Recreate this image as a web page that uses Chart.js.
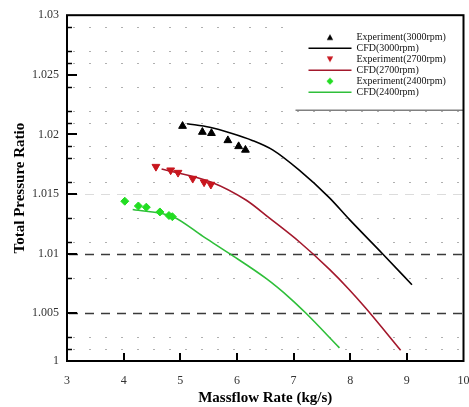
<!DOCTYPE html>
<html lang="en">
<head>
    <meta charset="UTF-8">
    <title>Total Pressure Ratio vs Massflow Rate</title>
    <style>
        html, body { margin: 0; padding: 0; background: #fff; }
        canvas { display: block; }
    </style>
    <script src="https://cdn.jsdelivr.net/npm/chart.js@4"></script>
</head>
<body>
    <canvas id="prChart" width="469" height="407"></canvas>

    <script>
        // Experiment and CFD values
        const exp3000X = [5.04, 5.39, 5.55, 5.84, 6.03, 6.15];
        const exp3000Y = [1.0207, 1.0202, 1.0201, 1.0195, 1.0190, 1.0187];
        const cfd3000X = [5.12, 5.52, 5.90, 6.27, 6.63, 7.10, 7.63, 7.98, 8.57, 9.09];
        const cfd3000Y = [1.0209, 1.0206, 1.0201, 1.0195, 1.0187, 1.0170, 1.0147, 1.0129, 1.0100, 1.0074];

        const exp2700X = [4.57, 4.83, 4.96, 5.22, 5.42, 5.54];
        const exp2700Y = [1.0173, 1.0170, 1.0168, 1.0163, 1.0160, 1.0158];
        const cfd2700X = [4.67, 5.55, 6.16, 6.57, 7.10, 7.63, 7.98, 8.28, 8.89];
        const cfd2700Y = [1.0171, 1.0160, 1.0145, 1.0130, 1.0110, 1.0087, 1.0070, 1.0054, 1.0019];

        const exp2400X = [4.02, 4.26, 4.40, 4.64, 4.80, 4.86];
        const exp2400Y = [1.0144, 1.0140, 1.0139, 1.0135, 1.0132, 1.0131];
        const cfd2400X = [4.16, 4.87, 5.40, 5.87, 6.52, 6.93, 7.22, 7.81];
        const cfd2400Y = [1.0137, 1.0131, 1.01145, 1.0100, 1.0079, 1.0063, 1.0050, 1.0021];

        // axis ticks (bottom of the frame sits a little above 1.000 on the tick spacing)
        const xTickValues = [3, 4, 5, 6, 7, 8, 9, 10];
        const yTickValues = [1.001, 1.005, 1.01, 1.015, 1.02, 1.025, 1.03];
        const yTickLabels = ['1', '1.005', '1.01', '1.015', '1.02', '1.025', '1.03'];
        // dotted minor grid rows seen in the figure
        const yMinorGrid = [1.002, 1.003, 1.008, 1.011, 1.013, 1.016, 1.018, 1.019, 1.021, 1.022, 1.024, 1.026, 1.027, 1.029];
        const yDarkDashed = [1.005, 1.01];
        const yLightDashed = [1.015];

        const SERIF = "'Liberation Serif', 'Times New Roman', serif";

        function toPoints(xs, ys) {
            return xs.map((x, i) => ({ x: x, y: ys[i] }));
        }

        // small glyphs for the legend markers (so they don't get stretched by pointStyleWidth)
        function legendGlyph(shape, color) {
            const c = document.createElement('canvas');
            c.width = 8; c.height = 8;
            const g = c.getContext('2d');
            g.fillStyle = color;
            g.beginPath();
            if (shape === 'up') {
                g.moveTo(4, 1); g.lineTo(7.2, 6.8); g.lineTo(0.8, 6.8);
            } else if (shape === 'down') {
                g.moveTo(0.8, 1.2); g.lineTo(7.2, 1.2); g.lineTo(4, 7);
            } else {
                g.moveTo(4, 0.5); g.lineTo(7.5, 4); g.lineTo(4, 7.5); g.lineTo(0.5, 4);
            }
            g.closePath();
            g.fill();
            return c;
        }

        // grid rows, frame and inward ticks like the original plot
        const framePlugin = {
            id: 'frame',
            afterLayout(chart) {
                const lg = chart.legend;
                const a = chart.chartArea;
                const w = lg.width, h = lg.height;
                lg.left = a.right - 156;
                lg.top = a.top + 16;
                lg.right = lg.left + w;
                lg.bottom = lg.top + h;
            },
            beforeDraw(chart) {
                const { ctx, chartArea: a, scales: { y } } = chart;
                const row = (v) => Math.round(y.getPixelForValue(v)) + 0.5;
                ctx.save();
                ctx.lineWidth = 1;

                ctx.strokeStyle = '#b0b0b0';
                ctx.setLineDash([2, 14]);
                yMinorGrid.forEach(v => {
                    const py = row(v);
                    ctx.beginPath(); ctx.moveTo(a.left + 6, py); ctx.lineTo(a.right, py); ctx.stroke();
                });

                ctx.setLineDash([9, 7]);
                ctx.strokeStyle = '#dcdcdc';
                yLightDashed.forEach(v => {
                    const py = row(v);
                    ctx.beginPath(); ctx.moveTo(a.left + 2, py); ctx.lineTo(a.right, py); ctx.stroke();
                });
                ctx.strokeStyle = '#3a3a3a';
                ctx.lineWidth = 1.3;
                yDarkDashed.forEach(v => {
                    const py = row(v);
                    ctx.beginPath(); ctx.moveTo(a.left + 2, py); ctx.lineTo(a.right, py); ctx.stroke();
                });

                // legend panel: white box with a grey rule underneath
                ctx.setLineDash([]);
                const boxL = chart.legend.left - 12;
                const boxB = chart.legend.top + 79;
                ctx.fillStyle = '#fff';
                ctx.fillRect(boxL, a.top, a.right - boxL, boxB - a.top);
                ctx.strokeStyle = '#808080';
                ctx.lineWidth = 1.5;
                ctx.beginPath(); ctx.moveTo(boxL, boxB); ctx.lineTo(a.right, boxB); ctx.stroke();
                ctx.restore();
            },
            afterDraw(chart) {
                const { ctx, chartArea: a, scales: { x, y } } = chart;
                ctx.save();
                ctx.strokeStyle = '#000';
                ctx.lineWidth = 2;
                ctx.strokeRect(a.left, a.top, a.right - a.left, a.bottom - a.top);

                yTickValues.slice(1, -1).forEach(v => {
                    const py = Math.round(y.getPixelForValue(v));
                    ctx.beginPath(); ctx.moveTo(a.left, py); ctx.lineTo(a.left + 10, py); ctx.stroke();
                });
                xTickValues.slice(1, -1).forEach(v => {
                    const px = Math.round(x.getPixelForValue(v));
                    ctx.beginPath(); ctx.moveTo(px, a.bottom); ctx.lineTo(px, a.bottom - 8); ctx.stroke();
                });
                ctx.lineWidth = 1.5;
                yMinorGrid.forEach(v => {
                    const py = Math.round(y.getPixelForValue(v)) + 0.5;
                    ctx.beginPath(); ctx.moveTo(a.left, py); ctx.lineTo(a.left + 5, py); ctx.stroke();
                });
                ctx.restore();
            }
        };

        const datasets = [
            {
                label: 'Experiment(3000rpm)',
                data: toPoints(exp3000X, exp3000Y),
                showLine: false,
                pointStyle: 'triangle',
                pointRadius: 4.5,
                backgroundColor: '#000',
                borderColor: '#000',
                borderWidth: 1,
                legendGlyph: legendGlyph('up', '#000')
            },
            {
                label: 'CFD(3000rpm)',
                data: toPoints(cfd3000X, cfd3000Y),
                borderColor: '#000',
                backgroundColor: '#000',
                borderWidth: 1.6,
                pointRadius: 0,
                pointStyle: 'line',
                cubicInterpolationMode: 'monotone'
            },
            {
                label: 'Experiment(2700rpm)',
                data: toPoints(exp2700X, exp2700Y),
                showLine: false,
                pointStyle: 'triangle',
                rotation: 180,
                pointRadius: 4.5,
                backgroundColor: '#c8161e',
                borderColor: '#c8161e',
                borderWidth: 1,
                legendGlyph: legendGlyph('down', '#c8161e')
            },
            {
                label: 'CFD(2700rpm)',
                data: toPoints(cfd2700X, cfd2700Y),
                borderColor: '#a3182c',
                backgroundColor: '#a3182c',
                borderWidth: 1.6,
                pointRadius: 0,
                pointStyle: 'line',
                cubicInterpolationMode: 'monotone'
            },
            {
                label: 'Experiment(2400rpm)',
                data: toPoints(exp2400X, exp2400Y),
                showLine: false,
                pointStyle: 'rectRot',
                pointRadius: 4,
                backgroundColor: '#22dd22',
                borderColor: '#22dd22',
                borderWidth: 1,
                legendGlyph: legendGlyph('diamond', '#22dd22')
            },
            {
                label: 'CFD(2400rpm)',
                data: toPoints(cfd2400X, cfd2400Y),
                borderColor: '#2fbf3a',
                backgroundColor: '#2fbf3a',
                borderWidth: 1.6,
                pointRadius: 0,
                pointStyle: 'line',
                cubicInterpolationMode: 'monotone'
            }
        ];

        const ctx = document.getElementById('prChart').getContext('2d');
        new Chart(ctx, {
            type: 'line',
            data: { datasets: datasets },
            plugins: [framePlugin],
            options: {
                responsive: false,
                animation: false,
                layout: { padding: { left: 0, right: 4, top: 15, bottom: 0 } },
                plugins: {
                    tooltip: { enabled: false },
                    legend: {
                        position: 'chartArea',
                        align: 'start',
                        labels: {
                            usePointStyle: true,
                            pointStyleWidth: 43,
                            boxHeight: 4,
                            padding: 1,
                            color: '#111',
                            font: { family: SERIF, size: 10 },
                            generateLabels(chart) {
                                const items = Chart.defaults.plugins.legend.labels.generateLabels(chart);
                                items.forEach(it => {
                                    const ds = chart.data.datasets[it.datasetIndex];
                                    if (ds.legendGlyph) {
                                        it.pointStyle = ds.legendGlyph;
                                        it.rotation = 0;
                                    }
                                });
                                return items;
                            }
                        }
                    }
                },
                scales: {
                    x: {
                        type: 'linear',
                        min: 3,
                        max: 10,
                        afterBuildTicks(scale) {
                            scale.ticks = xTickValues.map(v => ({ value: v }));
                        },
                        afterFit(scale) {
                            scale.height = 46;
                            scale.paddingRight = 0;
                        },
                        grid: { display: false, drawTicks: false },
                        border: { display: false },
                        ticks: {
                            padding: 13,
                            color: '#333',
                            maxRotation: 0,
                            font: { family: SERIF, size: 12 }
                        },
                        title: {
                            display: true,
                            text: 'Massflow Rate (kg/s)',
                            color: '#000',
                            padding: { top: 0, bottom: 0 },
                            font: { family: SERIF, size: 15, weight: 'bold' }
                        }
                    },
                    y: {
                        type: 'linear',
                        min: yTickValues[0],
                        max: yTickValues[yTickValues.length - 1],
                        afterBuildTicks(scale) {
                            scale.ticks = yTickValues.map(v => ({ value: v }));
                        },
                        afterFit(scale) { scale.width = 67; },
                        grid: { display: false, drawTicks: false },
                        border: { display: false },
                        ticks: {
                            padding: 8,
                            color: '#333',
                            font: { family: SERIF, size: 12 },
                            callback: (value, index) => yTickLabels[index]
                        },
                        title: {
                            display: true,
                            text: 'Total Pressure Ratio',
                            color: '#000',
                            padding: { top: 11, bottom: 0 },
                            font: { family: SERIF, size: 15, weight: 'bold' }
                        }
                    }
                }
            }
        });
    </script>
</body>
</html>
